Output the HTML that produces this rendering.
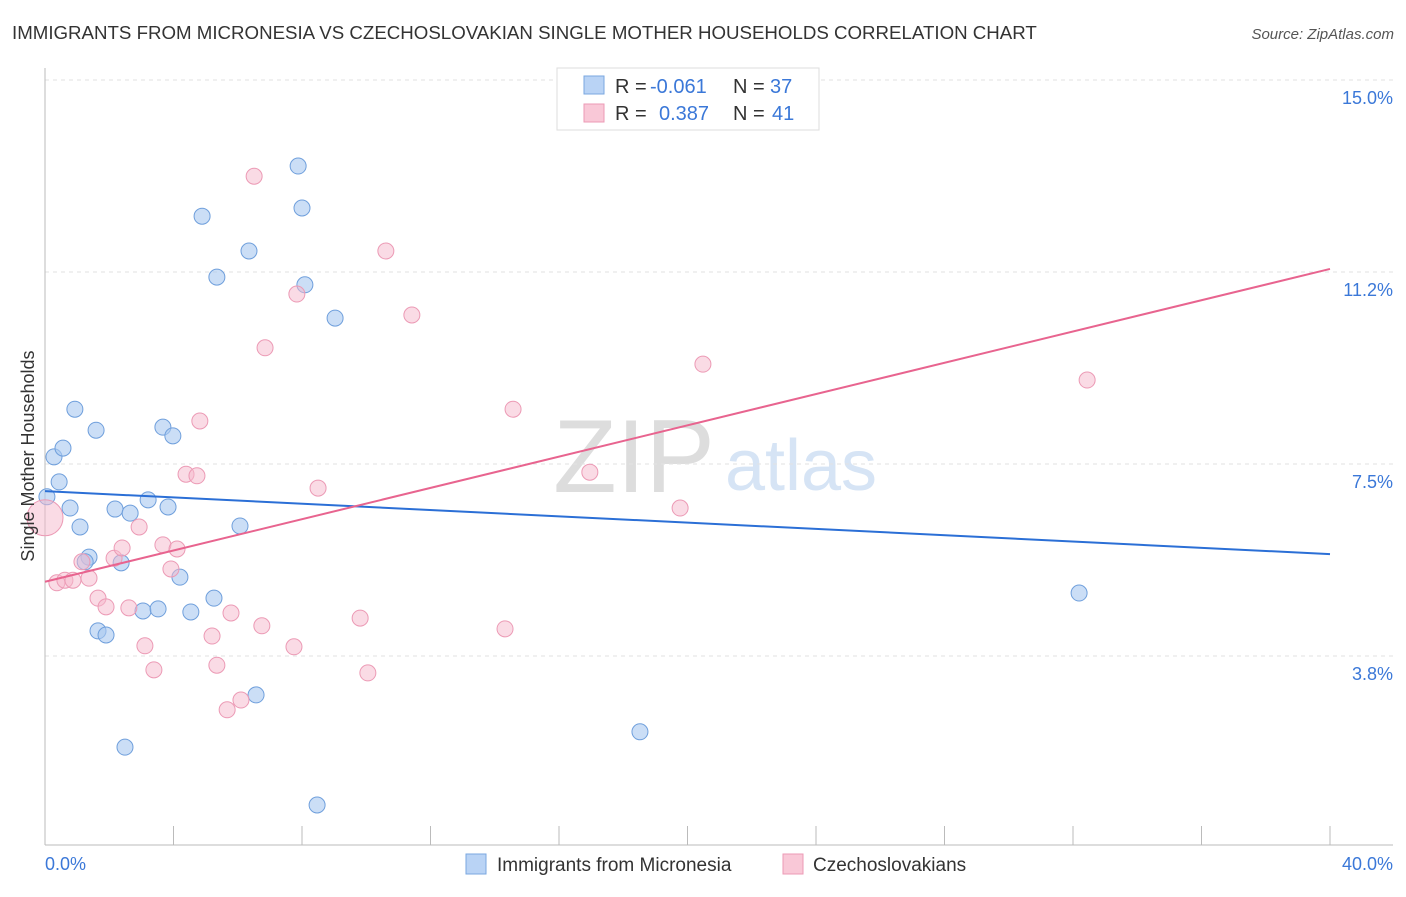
<!DOCTYPE html>
<html><head><meta charset="utf-8"><style>
body{margin:0;background:#fff;font-family:"Liberation Sans",sans-serif;}
svg text{font-family:"Liberation Sans",sans-serif;}
</style></head><body>
<svg id="chart" width="1406" height="892">
<text x="12" y="39" font-size="18.7" fill="#333">IMMIGRANTS FROM MICRONESIA VS CZECHOSLOVAKIAN SINGLE MOTHER HOUSEHOLDS CORRELATION CHART</text>
<text x="1394" y="39" font-size="15" fill="#555" font-style="italic" text-anchor="end">Source: ZipAtlas.com</text>
<text x="634" y="492" font-size="104" fill="#ddd" font-family="Liberation Serif" text-anchor="middle">ZIP</text>
<text x="801" y="490" font-size="72" fill="#d6e4f5" text-anchor="middle">atlas</text>
<g id="grid"></g>
<g id="axes"></g>
<g id="points"></g>
<g id="lines"></g>
<text transform="translate(34,456) rotate(-90)" font-size="18" fill="#333" text-anchor="middle">Single Mother Households</text>
<text x="45" y="870" font-size="18" fill="#3b78d8">0.0%</text>
<text x="1393" y="870" font-size="18" fill="#3b78d8" text-anchor="end">40.0%</text>
<g>
<rect x="557" y="68" width="262" height="62" fill="#fff" stroke="#ddd"/>
<rect x="584" y="76" width="20" height="18" fill="#b9d3f5" stroke="#7aa7e0"/>
<rect x="584" y="104" width="20" height="18" fill="#f9c8d7" stroke="#ec9ab5"/>
<text x="615" y="93" font-size="20" fill="#333">R = <tspan x="650" fill="#3b78d8">-0.061</tspan><tspan x="733">N = </tspan><tspan x="770" fill="#3b78d8">37</tspan></text>
<text x="615" y="120" font-size="20" fill="#333">R = <tspan x="659" fill="#3b78d8">0.387</tspan><tspan x="733">N = </tspan><tspan x="772" fill="#3b78d8">41</tspan></text>
</g>
<g>
<rect x="466" y="854" width="20" height="20" fill="#b9d3f5" stroke="#7aa7e0"/>
<text x="497" y="871" font-size="19" fill="#333">Immigrants from Micronesia</text>
<rect x="783" y="854" width="20" height="20" fill="#f9c8d7" stroke="#ec9ab5"/>
<text x="813" y="871" font-size="19" fill="#333">Czechoslovakians</text>
</g>
</svg>
<script>
const yTicks=[3.75,7.5,11.25,15];
const yTickLabels=["3.8%","7.5%","11.2%","15.0%"];
const xTicks=[0,4,8,12,16,20,24,28,32,36,40];
const blueX=[0.06,0.28,0.44,0.56,0.78,0.93,1.09,1.37,1.25,1.59,1.65,1.90,2.18,2.37,2.49,2.65,3.05,3.21,3.52,3.67,3.83,3.98,4.20,4.54,4.89,5.26,5.35,6.07,6.35,6.57,7.88,8.00,8.09,8.47,9.03,18.52,32.19];
const blueY=[6.86,7.64,7.15,7.81,6.64,8.57,6.27,5.68,5.59,8.16,4.24,4.16,6.62,5.57,1.97,6.54,4.63,6.80,4.67,8.22,6.66,8.05,5.29,4.61,12.34,4.88,11.15,6.29,11.66,2.99,13.32,12.50,11.00,0.84,10.35,2.27,4.98];
const pinkX=[0,0.37,0.62,0.87,1.15,1.37,1.65,1.90,2.15,2.40,2.61,2.93,3.11,3.39,3.67,3.92,4.11,4.39,4.73,4.82,5.20,5.35,5.67,5.79,6.10,6.51,6.75,6.85,7.75,7.84,8.50,9.81,10.05,10.61,11.42,14.32,14.57,16.96,19.77,20.48,32.44];
const pinkY=[6.45,5.18,5.23,5.23,5.59,5.27,4.88,4.71,5.66,5.86,4.69,6.27,3.95,3.48,5.92,5.45,5.84,7.30,7.27,8.34,4.14,3.57,2.70,4.59,2.89,13.12,4.34,9.77,3.93,10.82,7.03,4.49,3.42,11.66,10.41,4.28,8.57,7.34,6.64,9.45,9.14];
const blueTrend=[6.97,5.74];
const pinkTrend=[5.20,11.31];
const NS="http://www.w3.org/2000/svg";
const X=v=>45+v*1285/40;
const Y=v=>80+(15-v)*51.2;
function mk(tag,attrs,parent){const e=document.createElementNS(NS,tag);for(const k in attrs)e.setAttribute(k,attrs[k]);document.getElementById(parent).appendChild(e);return e;}
yTicks.forEach((t,i)=>{
  const l=mk('line',{x1:45,x2:1393,y1:Y(t),y2:Y(t),stroke:'#e2e2e2','stroke-dasharray':'4,4'},'grid');
  
  
  const tx=mk('text',{x:1393,y:Y(t)+24,'font-size':18,fill:'#3b78d8','text-anchor':'end'},'grid');
  tx.textContent=yTickLabels[i];
  
  
});
const ax=mk('line',{x1:45,x2:1393,y1:845,y2:845,stroke:'#bbb'},'axes');


const ay=mk('line',{x1:45,x2:45,y1:68,y2:845,stroke:'#bbb'},'axes');


xTicks.forEach(t=>{
  const l=mk('line',{x1:X(t),x2:X(t),y1:826,y2:845,stroke:'#bbb'},'axes');
  
  
});
blueX.forEach((v,i)=>{
  const c=mk('circle',{cx:X(v),cy:Y(blueY[i]),r:8,fill:'rgba(169,200,240,0.6)',stroke:'#6f9fdc','stroke-width':1},'points');
  
  
});
pinkX.forEach((v,i)=>{
  const c=mk('circle',{cx:X(v),cy:Y(pinkY[i]),r:i===0?18:8,fill:'rgba(245,184,204,0.5)',stroke:'#ec9ab5','stroke-width':1},'points');
  
  
});
const bl=mk('line',{x1:X(0),y1:Y(blueTrend[0]),x2:X(40),y2:Y(blueTrend[1]),stroke:'#2b6fd6','stroke-width':2},'lines');


const pl=mk('line',{x1:X(0),y1:Y(pinkTrend[0]),x2:X(40),y2:Y(pinkTrend[1]),stroke:'#e8648f','stroke-width':2},'lines');


</script>
</body></html>
